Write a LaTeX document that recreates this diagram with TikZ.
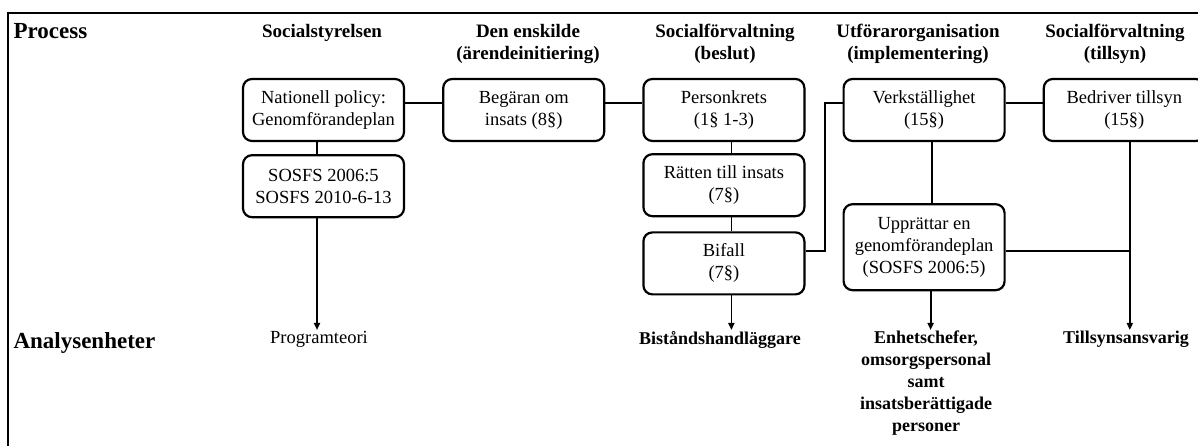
\documentclass[tikz,border=0pt]{standalone}
\usepackage{fontspec}
\setmainfont{Liberation Serif}
\usetikzlibrary{chains,positioning,arrows.meta}
\tikzstyle{procbox}=[draw,rounded corners=9pt,line width=2.2pt,minimum width=161pt,minimum height=62pt,align=center,inner sep=2pt,font=\fontsize{18.5}{22}\selectfont]
\tikzstyle{colhead}=[align=center,font=\fontsize{19}{22}\selectfont\bfseries]
\tikzstyle{rowhead}=[anchor=west,font=\fontsize{23}{26}\selectfont\bfseries]
\tikzstyle{unit}=[align=center,anchor=north,inner sep=1pt,font=\fontsize{18}{22}\selectfont\bfseries]
\tikzstyle{link}=[line width=1.8pt]
\tikzstyle{flow}=[line width=1.8pt,-{Triangle[length=7pt,width=6pt]}]

\begin{document}
\begin{tikzpicture}[x=1pt,y=1pt]
\useasboundingbox (0,0) rectangle (1198,446);
% frame
\draw[line width=1.5pt] (8,0) -- (8,433) -- (1198,433);

% row labels
\node[rowhead] (process) at (10,415) {Process};
\node[rowhead] (analys) at (10,103) {Analysenheter};

% column headings
\node[colhead] (h1) at (322,413) {Socialstyrelsen};
\node[colhead] (h2) at (528,402) {Den enskilde\\(ärendeinitiering)};
\node[colhead] (h3) at (725,402) {Socialförvaltning\\(beslut)};
\node[colhead] (h4) at (918,402) {Utförarorganisation\\(implementering)};
\node[colhead] (h5) at (1115,402) {Socialförvaltning\\(tillsyn)};

% process steps
\begin{scope}[start chain=top going right, node distance=37pt]
    \node [on chain=top,procbox] (nat) at (323.5,336) {Nationell policy:\\Genomförandeplan};
    \node [on chain=top,procbox] (beg) {Begäran om\\insats (8§)};
    \node [on chain=top,procbox] (pers) {Personkrets\\(1§ 1-3)};
    \node [on chain=top,procbox] (verk) {Verkställighet\\(15§)};
    \node [on chain=top,procbox] (bed) {Bedriver tillsyn\\(15§)};
\end{scope}
\node [procbox,below=12pt of nat] (sosfs) {SOSFS 2006:5\\SOSFS 2010-6-13};
\node [procbox,below=11pt of pers] (ratt) {Rätten till insats\\(7§)};
\node [procbox,below=14pt of ratt] (bif) {Bifall\\(7§)};
\node [procbox,below=61pt of verk,minimum height=86pt] (upp) {Upprättar en\\genomförandeplan\\(SOSFS 2006:5)};

% units of analysis
\node[unit,font=\fontsize{18.5}{22}\selectfont] (prog) at (319,116) {Programteori};
\node[unit] (bist) at (720,116) {Biståndshandläggare};
\node[unit] (enh) at (926,116) {Enhetschefer,\\omsorgspersonal\\samt\\insatsberättigade\\personer};
\node[unit] (tills) at (1126,116) {Tillsynsansvarig};

% connectors
\coordinate (toplink) at (0,343);
\coordinate (lowlink) at (0,195);
\coordinate (jog) at (825,0);
\coordinate (natfoot) at ([xshift=-6.5pt]nat.south);
\coordinate (sosfsfoot) at ([xshift=-6.5pt]sosfs.south);
\coordinate (persfoot) at ([xshift=7.5pt]pers.south);
\coordinate (rattfoot) at ([xshift=7.5pt]ratt.south);
\coordinate (biffoot) at ([xshift=7.5pt]bif.south);
\coordinate (verkfoot) at ([xshift=7.5pt]verk.south);
\coordinate (uppfoot) at ([xshift=6.5pt]upp.south);
\coordinate (bedfoot) at ([xshift=5.5pt]bed.south);

\draw[link] (nat.east |- toplink) -- (beg.west |- toplink);
\draw[link] (beg.east |- toplink) -- (pers.west |- toplink);
\draw[link] (verk.east |- toplink) -- (bed.west |- toplink);
\draw[link] (natfoot) -- (natfoot |- sosfs.north);
\draw[link] (persfoot) -- (persfoot |- ratt.north);
\draw[link] (rattfoot) -- (rattfoot |- bif.north);
\draw[link] (verkfoot) -- (verkfoot |- upp.north);
\draw[link] (bif.east |- lowlink) -| (jog |- toplink) -- (verk.west |- toplink);
\draw[link] (upp.east |- lowlink) -- (bedfoot |- lowlink);

\draw[flow] (sosfsfoot) -- (sosfsfoot |- prog.north);
\draw[flow] (biffoot) -- (biffoot |- bist.north);
\draw[flow] (uppfoot) -- (uppfoot |- enh.north);
\draw[flow] (bedfoot) -- (bedfoot |- tills.north);
\end{tikzpicture}
\end{document}
